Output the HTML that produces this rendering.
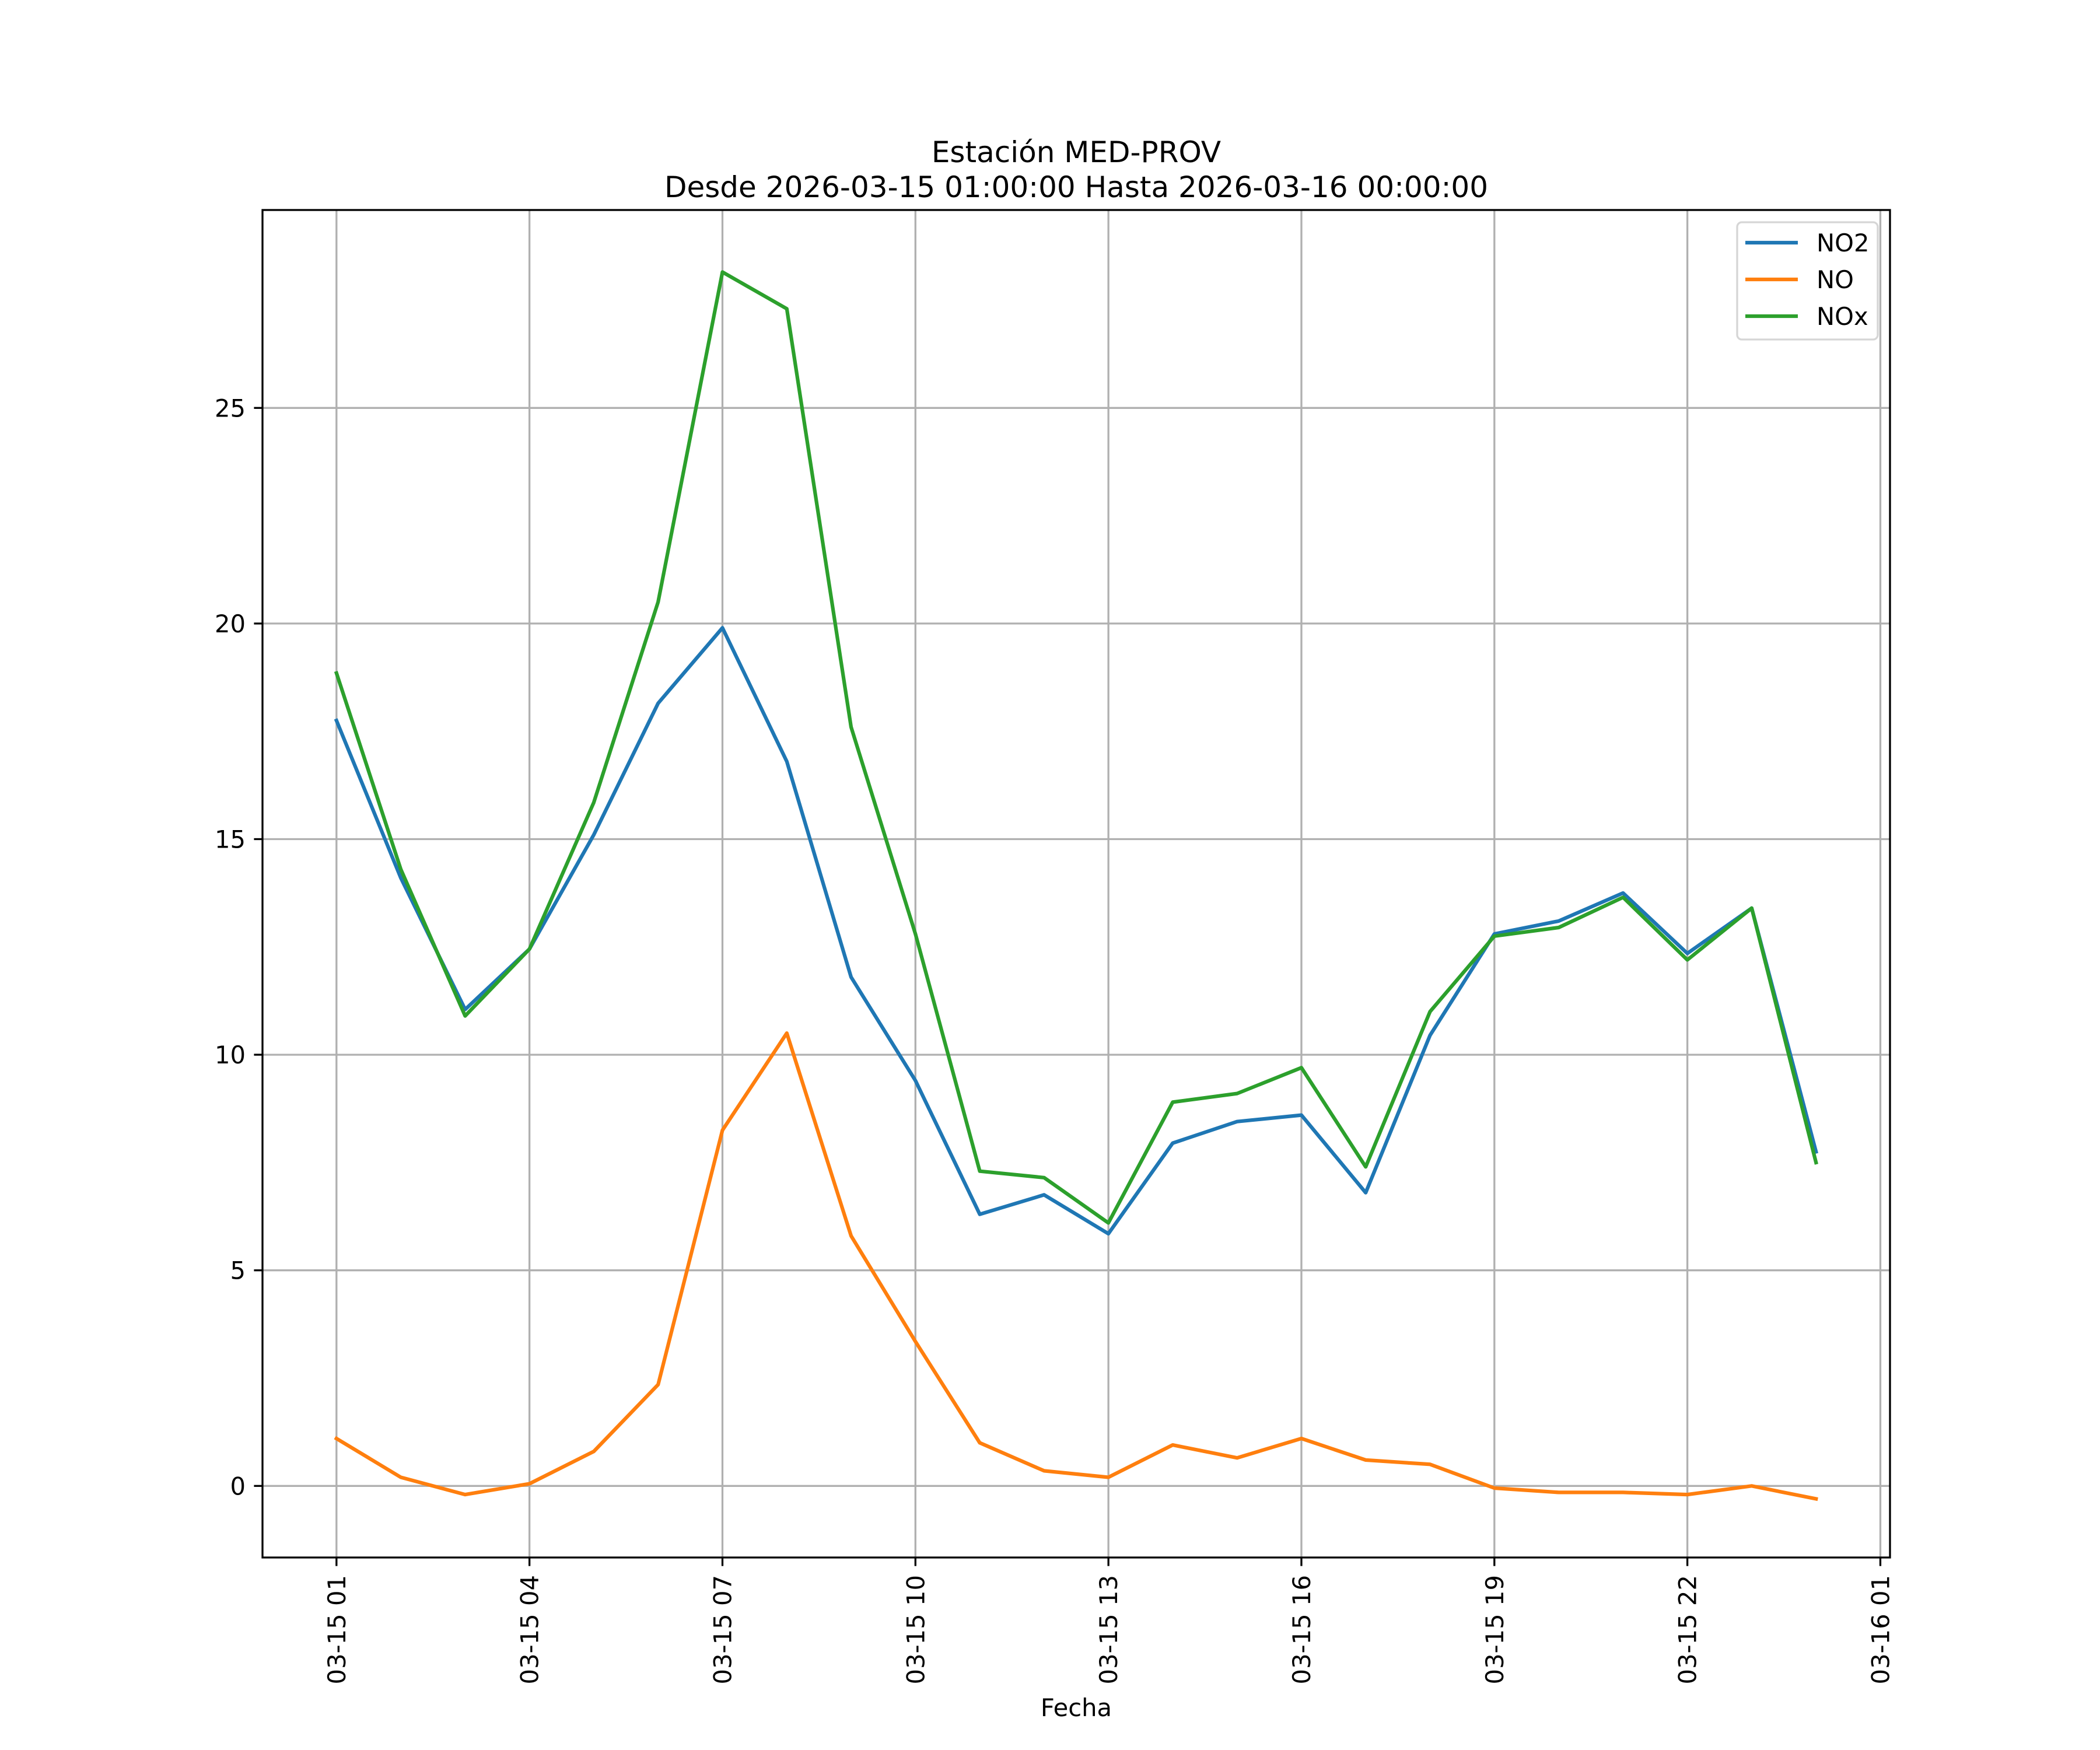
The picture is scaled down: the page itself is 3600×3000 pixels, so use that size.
<!DOCTYPE html>
<html><head><meta charset="utf-8"><style>
html,body{margin:0;padding:0;background:#fff}
svg{display:block}
text{font-family:"DejaVu Sans","Liberation Sans",sans-serif;fill:#000}
</style></head><body>
<svg id="chart" width="3600" height="3000" viewBox="0 0 3600 3000" xmlns="http://www.w3.org/2000/svg">
<rect width="3600" height="3000" fill="#fff"/>
<g id="grid"></g>
<g id="series"></g>
<rect x="450" y="360" width="2790" height="2310" fill="none" stroke="#000" stroke-width="3.3"/>
<g id="ticks"></g>
<text x="1845" y="278" font-size="50" text-anchor="middle">Estación MED-PROV</text>
<text x="1845" y="338" font-size="50" text-anchor="middle">Desde 2026-03-15 01:00:00 Hasta 2026-03-16 00:00:00</text>
<text x="1845" y="2942" font-size="41.7" text-anchor="middle">Fecha</text>
<g id="legend">
<rect x="2978" y="381" width="241" height="201" rx="8" fill="#fff" fill-opacity="0.8" stroke="#d6d6d6" stroke-width="3.3"/>
</g>
</svg>
<script>
const hours = ["01","02","03","04","05","06","07","08","09","10","11","12","13","14","15","16","17","18","19","20","21","22","23","00"];
const no2 = [17.75,14.1,11.05,12.45,15.1,18.15,19.9,16.8,11.8,9.4,6.3,6.75,5.85,7.95,8.45,8.6,6.8,10.45,12.8,13.1,13.75,12.35,13.4,7.75];
const no = [1.1,0.2,-0.2,0.05,0.8,2.35,8.25,10.5,5.8,3.35,1.0,0.35,0.2,0.95,0.65,1.1,0.6,0.5,-0.05,-0.15,-0.15,-0.2,0.0,-0.3];
const nox = [18.85,14.3,10.9,12.45,15.85,20.5,28.15,27.3,17.6,12.8,7.3,7.15,6.1,8.9,9.1,9.7,7.4,11.0,12.75,12.95,13.65,12.2,13.4,7.5];
const yTicks = [0,5,10,15,20,25];
const xTickIdx = [0,3,6,9,12,15,18,21,24];
const xTickLabels = ["03-15 01","03-15 04","03-15 07","03-15 10","03-15 13","03-15 16","03-15 19","03-15 22","03-16 01"];
const seriesNames = ["NO2","NO","NOx"];
const seriesColors = ["#1f77b4","#ff7f0e","#2ca02c"];

const NS="http://www.w3.org/2000/svg";
const L=450,R=3240,T=360,B=2670;
const xMin=-1.15,xMax=24.15;
const yMin=-1.66,yMax=29.59;
function X(i){return L+(i-xMin)/(xMax-xMin)*(R-L);}
function Y(v){return B-(v-yMin)/(yMax-yMin)*(B-T);}
function mk(tag,attrs,parent){const e=document.createElementNS(NS,tag);for(const k in attrs)e.setAttribute(k,attrs[k]);parent.appendChild(e);return e;}
const grid=document.getElementById('grid'),ticks=document.getElementById('ticks'),series=document.getElementById('series'),legend=document.getElementById('legend');
yTicks.forEach(v=>{
  const y=Y(v);
  const g=mk('line',{x1:L,x2:R,y1:y,y2:y,stroke:'#b0b0b0','stroke-width':3.3},grid);
  
  
  const t=mk('line',{x1:L-14.6,x2:L,y1:y,y2:y,stroke:'#000','stroke-width':3.3},ticks);
  
  
  const tx=mk('text',{x:L-29,y:y+15,'font-size':41.7,'text-anchor':'end'},ticks);
  tx.textContent=String(v);
  
  
});
xTickIdx.forEach((i,k)=>{
  const x=X(i);
  const g=mk('line',{x1:x,x2:x,y1:T,y2:B,stroke:'#b0b0b0','stroke-width':3.3},grid);
  
  
  const t=mk('line',{x1:x,x2:x,y1:B,y2:B+14.6,stroke:'#000','stroke-width':3.3},ticks);
  
  
  const tx=mk('text',{x:0,y:0,'font-size':41.7,'text-anchor':'end',transform:`translate(${x+15},${B+30}) rotate(-90)`},ticks);
  tx.textContent=xTickLabels[k];
  
  
});
[no2,no,nox].forEach((arr,s)=>{
  const pts=arr.map((v,i)=>X(i).toFixed(1)+','+Y(v).toFixed(1)).join(' ');
  const p=mk('polyline',{points:pts,fill:'none',stroke:seriesColors[s],'stroke-width':6.25,'stroke-linejoin':'round','stroke-linecap':'square'},series);
  
  
  const ly=416+s*63;
  const ll=mk('line',{x1:2992,x2:3082,y1:ly,y2:ly,stroke:seriesColors[s],'stroke-width':6.25},legend);
  
  
  const lt=mk('text',{x:3114,y:ly+15,'font-size':41.7},legend);
  lt.textContent=seriesNames[s];
  
  
});
</script>
</body></html>
